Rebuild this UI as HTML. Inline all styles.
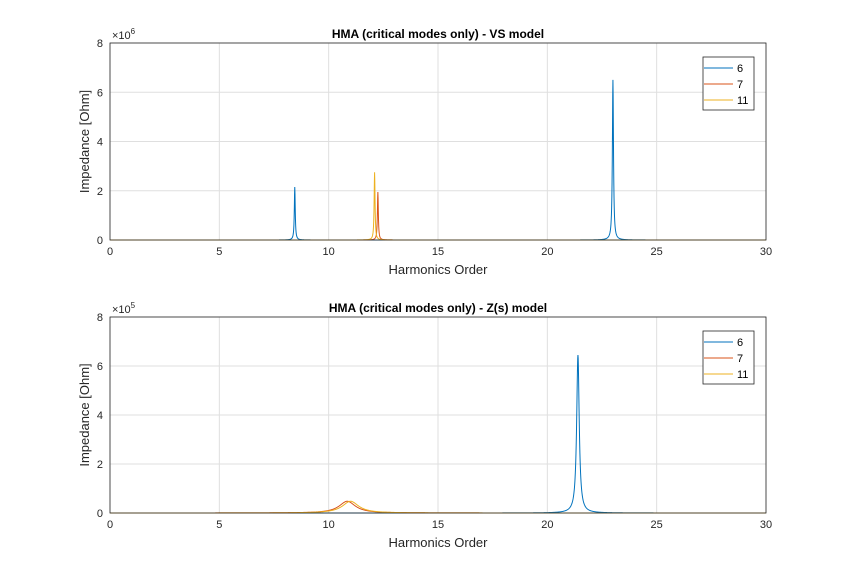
<!DOCTYPE html>
<html><head><meta charset="utf-8"><style>
body{margin:0;background:#fff;font-family:"Liberation Sans",Arial,sans-serif}
svg text{font-family:"Liberation Sans",Arial,sans-serif}
</style></head><body>
<svg id="c" width="847" height="576" viewBox="0 0 847 576" xmlns="http://www.w3.org/2000/svg"></svg>
<script>
const xTicks=[0,5,10,15,20,25,30];
const yTicks=[0,2,4,6,8];
const seriesNames=["6","7","11"];
const colors=["#0072BD","#D95319","#EDB120"];
// peaks per series: [position, height (in axis units), halfwidth]
const topPeaks=[[[8.45,2.15,0.025],[23.0,6.5,0.03]],[[12.25,1.95,0.025]],[[12.1,2.75,0.025]]];
const botPeaks=[[[21.4,6.45,0.07]],[[10.85,0.48,0.45]],[[11.0,0.48,0.45]]];
const panels=[{top:43,bot:240,title:"HMA (critical modes only) - VS model",exp:"6",peaks:topPeaks,name:"vs-model"},
{top:317,bot:513,title:"HMA (critical modes only) - Z(s) model",exp:"5",peaks:botPeaks,name:"zs-model"}];
const L=110,R=766,NS="http://www.w3.org/2000/svg";
const svg=document.getElementById('c');
function el(t,a,p){const e=document.createElementNS(NS,t);for(const k in a)e.setAttribute(k,a[k]);(p||svg).appendChild(e);return e;}
const X=v=>L+(v-0)/30*(R-L);
panels.forEach(p=>{
 const Y=v=>p.bot-v/8*(p.bot-p.top);
 const g=el('g',{});
 
 
 el('rect',{x:L,y:p.top,width:R-L,height:p.bot-p.top,fill:'#fff'},g);
 xTicks.forEach(t=>{el('line',{x1:X(t),x2:X(t),y1:p.top,y2:p.bot,stroke:'#dfdfdf'},g);
  const tx=el('text',{x:X(t),y:p.bot+15,'text-anchor':'middle','font-size':11,fill:'#262626'},g);tx.textContent=t;
  });
 yTicks.forEach(t=>{el('line',{x1:L,x2:R,y1:Y(t),y2:Y(t),stroke:'#dfdfdf'},g);
  const tx=el('text',{x:L-7,y:Y(t)+4,'text-anchor':'end','font-size':11,fill:'#262626'},g);tx.textContent=t;
  });
 p.peaks.forEach((pk,si)=>{
  let d='';for(let i=0;i<=3000;i++){const x=i/100;let v=0;pk.forEach(q=>{const u=(x-q[0])/q[2];v+=q[1]/(1+u*u);});
   d+=(i?'L':'M')+X(x).toFixed(2)+','+Y(Math.min(v,8)).toFixed(2);}
  const pa=el('path',{d:d,fill:'none',stroke:colors[si],'stroke-width':1},g);
  
  
 });
 el('rect',{x:L,y:p.top,width:R-L,height:p.bot-p.top,fill:'none',stroke:'#262626','stroke-width':0.8},g);
 const ti=el('text',{x:(L+R)/2,y:p.top-5,'text-anchor':'middle','font-size':12,'font-weight':'bold',fill:'#000'},g);ti.textContent=p.title;
 
 const ex=el('text',{x:L+2,y:p.top-4,'font-size':11,fill:'#262626'},g);ex.innerHTML='×10<tspan dy="-5" font-size="8">'+p.exp+'</tspan>';
 
 const xl=el('text',{x:(L+R)/2,y:p.bot+34,'text-anchor':'middle','font-size':13,fill:'#262626'},g);xl.textContent='Harmonics Order';
 
 const yc=(p.top+p.bot)/2;
 const yl=el('text',{x:89,y:yc,'text-anchor':'middle','font-size':13,fill:'#262626',transform:`rotate(-90 89 ${yc})`},g);yl.textContent='Impedance [Ohm]';
 
 const lg=el('g',{},g);
 
 el('rect',{x:703,y:p.top+14,width:51,height:53,fill:'#fff',stroke:'#262626','stroke-width':0.8},lg);
 seriesNames.forEach((n,i)=>{const yy=p.top+25+i*16;
  el('line',{x1:704,x2:733,y1:yy,y2:yy,stroke:colors[i],'stroke-width':1},lg);
  const t=el('text',{x:737,y:yy+4,'font-size':11,fill:'#000'},lg);t.textContent=n;
  });
});
</script>
</body></html>
